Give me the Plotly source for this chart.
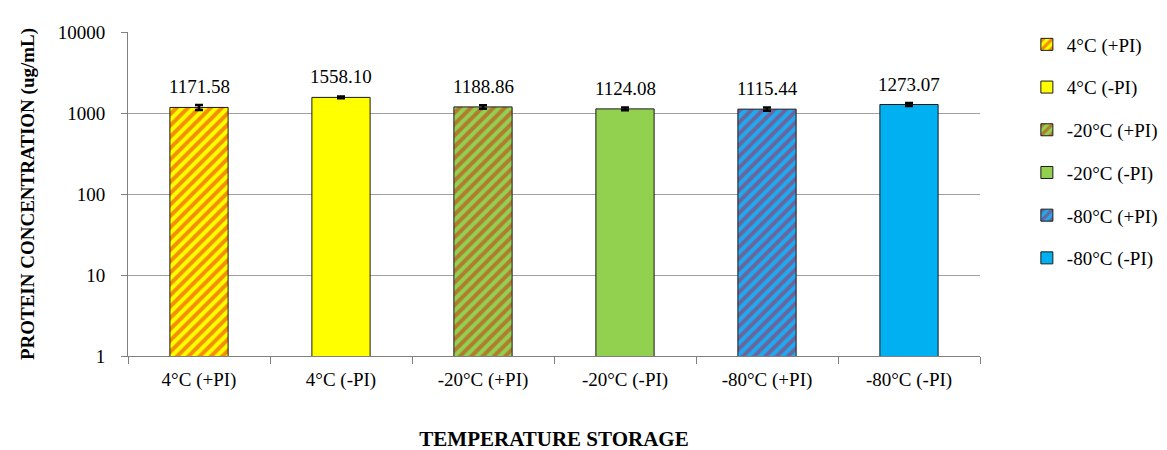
import math
import plotly.graph_objects as go

categories = ["4°C (+PI)", "4°C (-PI)", "-20°C (+PI)", "-20°C (-PI)", "-80°C (+PI)", "-80°C (-PI)"]
values = [1171.58, 1558.10, 1188.86, 1124.08, 1115.44, 1273.07]
errors = [80, 40, 60, 45, 50, 55]
bg_colors = ["#FFFF00", "#FFFF00", "#92D050", "#92D050", "#1FAAF0", "#00B0F0"]
fg_colors = ["#E81E00", None, "#D02810", None, "#B8204A", None]
y_ticks = [1, 10, 100, 1000, 10000]

FONT = "Liberation Serif, Times New Roman, serif"

fig = go.Figure()
for i, (cat, v, e, bg, fg) in enumerate(zip(categories, values, errors, bg_colors, fg_colors)):
    marker = dict(color=bg, line=dict(color="#1a1a1a", width=1))
    if fg:
        marker["pattern"] = dict(shape="/", fgcolor=fg, bgcolor=bg, size=8, solidity=0.5, fillmode="overlay")
    fig.add_trace(go.Bar(
        x=[cat], y=[v], name=cat, legendgroup=cat,
        marker=marker,
        error_y=dict(type="data", array=[e], color="black", thickness=2.5, width=4),
        width=0.41,
    ))
    # annotations on a log axis take log10 positions
    fig.add_annotation(
        x=cat, y=math.log10(v), xref="x", yref="y", text=f"{v:.2f}", showarrow=False,
        yanchor="bottom", yshift=8,
        font=dict(family=FONT, size=19, color="black"),
    )

fig.update_layout(
    width=1167, height=450,
    paper_bgcolor="white", plot_bgcolor="white",
    margin=dict(l=120, r=180, t=24, b=100),
    font=dict(family=FONT, size=19, color="black"),
    showlegend=True,
    barmode="overlay",
    legend=dict(x=1.055, y=1.02, xanchor="left", yanchor="top",
                tracegroupgap=15, font=dict(family=FONT, size=19),
                itemwidth=30, traceorder="grouped", maxheight=440),
    xaxis=dict(
        categoryorder="array", categoryarray=categories,
        showline=True, linecolor="#808080", linewidth=1,
        showgrid=False,
        ticks="outside", ticklen=7, tickcolor="#808080", tickson="boundaries",
        ticklabelstandoff=6,
        title=dict(text="<b>TEMPERATURE STORAGE</b>", font=dict(family=FONT, size=21), standoff=41),
        tickfont=dict(family=FONT, size=19),
    ),
    yaxis=dict(
        type="log", range=[0, 4],
        tickvals=y_ticks, ticktext=[str(t) for t in y_ticks],
        showline=True, linecolor="#808080", linewidth=1,
        ticks="outside", ticklen=6, tickcolor="#808080",
        ticklabelstandoff=12,
        showgrid=True, gridcolor="#A0A0A0", gridwidth=1,
        title=dict(text="<b>PROTEIN CONCENTRATION (ug/mL)</b>", font=dict(family=FONT, size=19), standoff=18),
        tickfont=dict(family=FONT, size=19),
        zeroline=False,
    ),
)

fig.write_html("out.html")
